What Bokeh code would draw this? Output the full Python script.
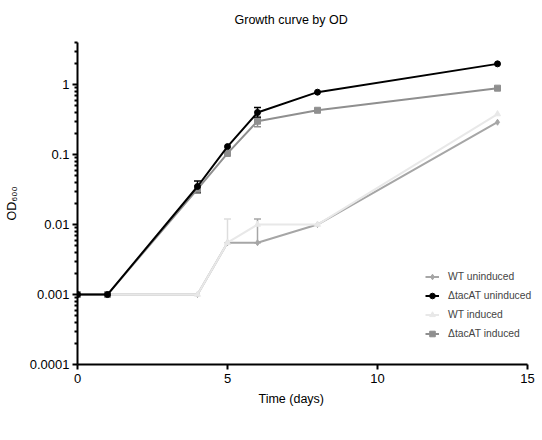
import numpy as np
from bokeh.plotting import figure
from bokeh.models import (ColumnDataSource, Whisker, TeeHead, FixedTicker, Range1d,
                          Legend, LegendItem, Title)
from bokeh.embed import file_html
from bokeh.resources import INLINE

# ---- data ----
days = [0, 1, 4, 5, 6, 8, 14]
wt_uninduced = [0.001, 0.001, 0.001, 0.0055, 0.0055, 0.01, 0.29]
tac_uninduced = [0.001, 0.001, 0.035, 0.13, 0.40, 0.78, 1.98]
wt_induced = [0.001, 0.001, 0.001, 0.0055, 0.01, 0.01, 0.38]
tac_induced = [0.001, 0.001, 0.032, 0.104, 0.30, 0.43, 0.89]

# error bars (day, lower, upper)
err_tac_unind_x = [4, 6]
err_tac_unind_lo = [0.029, 0.34]
err_tac_unind_hi = [0.042, 0.47]
err_tac_ind_x = [4, 6]
err_tac_ind_lo = [0.028, 0.25]
err_tac_ind_hi = [0.036, 0.35]
err_wt_ind_x = [5]
err_wt_ind_lo = [0.0055]
err_wt_ind_hi = [0.012]
err_wt_unind_x = [6]
err_wt_unind_lo = [0.0055]
err_wt_unind_hi = [0.012]

y_major = [0.0001, 0.001, 0.01, 0.1, 1]
y_major_labels = ["0.0001", "0.001", "0.01", "0.1", "1"]
x_ticks = [0, 5, 10, 15]

FONT = "Liberation Sans"
C_WT_UN = "#a6a6a6"
C_TAC_UN = "#000000"
C_WT_IN = "#e8e8e8"
C_TAC_IN = "#8f8f8f"

# frame spans 77..541 px; the x axis itself is bounded to 0..15 (30 px/day)
p = figure(width=542, height=440, output_backend="svg", toolbar_location=None,
           y_axis_type="log", x_range=Range1d(0, 15 * 464 / 450),
           y_range=Range1d(1e-4, 4),
           min_border_left=77, min_border_right=1, min_border_top=42,
           min_border_bottom=76, outline_line_color=None)
p.title = Title(text="Growth curve by OD\n ", align="left",
                text_font=FONT,
                text_font_size="12.5px", text_font_style="normal",
                text_color="black", offset=157, standoff=3)
p.grid.visible = False

# axes
minor = []
for d in range(-4, 1):
    for m in range(2, 10):
        v = m * 10.0 ** d
        if v <= 4:
            minor.append(v)
p.yaxis.ticker = FixedTicker(ticks=y_major, minor_ticks=minor)
p.yaxis.major_label_overrides = {v: l for v, l in zip(y_major, y_major_labels)}
p.xaxis.ticker = FixedTicker(ticks=x_ticks, minor_ticks=[])
p.xaxis.bounds = (0, 15)
for ax in (p.xaxis, p.yaxis):
    ax.axis_line_width = 2
    ax.axis_line_color = "black"
    ax.major_tick_line_width = 2
    ax.minor_tick_line_width = 2
    ax.major_tick_out = 5
    ax.major_tick_in = 0
    ax.minor_tick_out = 3
    ax.minor_tick_in = 0
    ax.major_label_text_font = FONT
    ax.major_label_text_font_size = "13px"
    ax.major_label_text_color = "black"
    ax.axis_label_text_font = FONT
    ax.axis_label_text_font_size = "12.5px"
    ax.axis_label_text_font_style = "normal"
    ax.axis_label_text_color = "black"
p.xaxis.major_label_standoff = 4
p.yaxis.major_label_standoff = 3
p.yaxis.axis_label = "OD₆₀₀"
p.yaxis.axis_label_standoff = 8

xlabel = Title(text="Time (days)", align="left", text_font=FONT,
               text_font_size="12.5px", text_font_style="normal",
               text_color="black", offset=181, standoff=9)
p.add_layout(xlabel, "below")

def whisk(xs, lo, hi, color):
    src = ColumnDataSource(dict(x=xs, lo=lo, hi=hi))
    w = Whisker(source=src, base="x", lower="lo", upper="hi", line_color=color,
                line_width=1.5,
                upper_head=TeeHead(size=7, line_color=color, line_width=1.5),
                lower_head=TeeHead(size=7, line_color=color, line_width=1.5))
    p.add_layout(w)

# WT uninduced
src = ColumnDataSource(dict(x=days, y=wt_uninduced))
l1 = p.line("x", "y", source=src, line_color=C_WT_UN, line_width=2)
m1 = p.scatter("x", "y", source=src, marker="diamond", size=6, color=C_WT_UN)
whisk(err_wt_unind_x, err_wt_unind_lo, err_wt_unind_hi, C_WT_UN)
# WT induced
src = ColumnDataSource(dict(x=days, y=wt_induced))
l3 = p.line("x", "y", source=src, line_color=C_WT_IN, line_width=2)
m3 = p.scatter("x", "y", source=src, marker="triangle", size=6, color=C_WT_IN)
whisk(err_wt_ind_x, err_wt_ind_lo, err_wt_ind_hi, "#dddddd")
# tac induced
src = ColumnDataSource(dict(x=days, y=tac_induced))
l4 = p.line("x", "y", source=src, line_color=C_TAC_IN, line_width=2)
m4 = p.scatter("x", "y", source=src, marker="square", size=6, color=C_TAC_IN)
whisk(err_tac_ind_x, err_tac_ind_lo, err_tac_ind_hi, C_TAC_IN)
# tac uninduced
src = ColumnDataSource(dict(x=days, y=tac_uninduced))
l2 = p.line("x", "y", source=src, line_color=C_TAC_UN, line_width=2)
m2 = p.scatter("x", "y", source=src, marker="circle", size=6, color=C_TAC_UN)
whisk(err_tac_unind_x, err_tac_unind_lo, err_tac_unind_hi, C_TAC_UN)

legend = Legend(items=[
    LegendItem(label="WT uninduced", renderers=[l1, m1]),
    LegendItem(label="ΔtacAT uninduced", renderers=[l2, m2]),
    LegendItem(label="WT induced", renderers=[l3, m3]),
    LegendItem(label="ΔtacAT induced", renderers=[l4, m4]),
], location=(348, 22), border_line_color=None, background_fill_alpha=0,
    padding=0, spacing=2, glyph_width=14, glyph_height=17, label_height=17,
    label_standoff=9, label_text_font=FONT, label_text_font_size="10.3px",
    margin=0)
p.add_layout(legend)

open("out.html", "w").write(file_html(p, INLINE))
